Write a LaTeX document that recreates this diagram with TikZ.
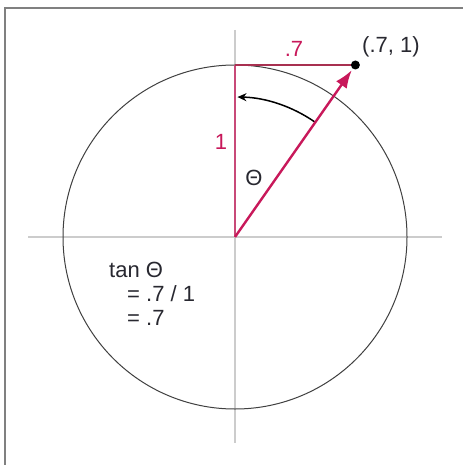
\documentclass[tikz,border=0pt]{standalone}
\usepackage{fontspec}
\setmainfont{Liberation Sans}
\usetikzlibrary{arrows.meta,calc}
\definecolor{mag}{HTML}{C8185A}
\definecolor{magl}{HTML}{C84A78}
\definecolor{maroon}{HTML}{A83050}
\definecolor{txt}{HTML}{282830}
\begin{document}
\begin{tikzpicture}[x=1pt,y=-1pt,
  lbl/.style={font=\fontsize{22}{26}\selectfont, inner sep=0pt},
  axis/.style={draw=black!20, line width=1.6pt},
  frame/.style={draw=black!50, line width=2pt}]
\useasboundingbox (0,0) rectangle (463,465);
\fill[white] (0,0) rectangle (463,465);
\draw[frame] (5,465) -- (5,8) -- (463,8);
\coordinate (O) at (235,237);
\coordinate (T) at (235,65);
\coordinate (P) at (355.4,65);
\coordinate (xl) at (28,237);
\coordinate (xr) at (442,237);
\coordinate (yt) at (235,30);
\coordinate (yb) at (235,443);
\coordinate (A) at ($(O)+(-55:140)$);
\draw[axis] (xl) -- (xr);
\draw[axis] (yt) -- (yb);
\draw[black!75, line width=1pt] (O) circle (172);
\draw[magl, line width=1.8pt] (O) -- (T);
\draw[maroon, line width=1.4pt] (T) -- (P);
\draw[black, line width=1.5pt, -{Stealth[length=9pt,width=8pt]}] (A) arc[start angle=-55, end angle=-89, radius=140];
\draw[mag, line width=2.4pt, -{Latex[length=18pt,width=13pt]}] (O) -- ($(P)!0.03!(O)$);
\fill[black] (P) circle (4.5);
\node[lbl, text=mag] (one) at (221,142) {1};
\node[lbl, text=txt] (th) at (254,178) {Θ};
\node[lbl, text=mag] (sev) at (294,49) {.7};
\node[lbl, text=txt, anchor=west] (pt) at (362,47) {(.7, 1)};
\node[lbl, text=txt, anchor=west] (t1) at (109,270) {tan Θ};
\node[lbl, text=txt, anchor=west] (t2) at (127,294) {= .7 / 1};
\node[lbl, text=txt, anchor=west] (t3) at (127,318) {= .7};
\end{tikzpicture}
\end{document}
